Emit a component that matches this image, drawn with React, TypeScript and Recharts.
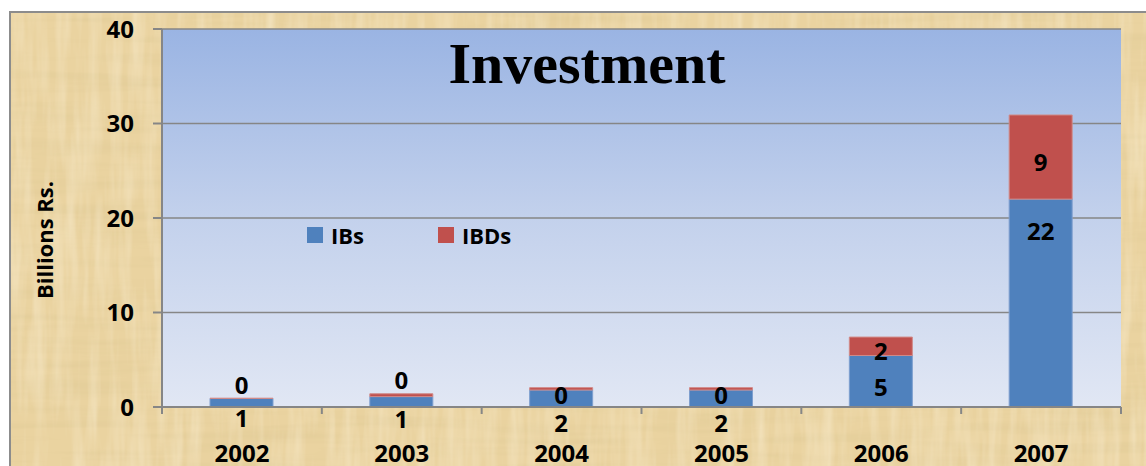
import React from 'react';
import {
  BarChart,
  Bar,
  XAxis,
  YAxis,
  CartesianGrid,
  Legend,
  LabelList,
} from 'recharts';

const years = ['2002', '2003', '2004', '2005', '2006', '2007'];
const ibs = [0.9, 1.1, 1.8, 1.8, 5.45, 22.0];
const ibds = [0.03, 0.3, 0.25, 0.25, 1.95, 8.9];
const yTicks = [0, 10, 20, 30, 40];

const data = years.map((year, i) => ({ year, IBs: ibs[i], IBDs: ibds[i] }));

const W = 1146;
const H = 466;
const FONT = '"Open Sans", "DejaVu Sans", sans-serif';
const BLUE = '#4F81BD';
const RED = '#C0504D';
const AXIS = '#868686';

function YearTick(props: any) {
  const { x, y, payload, index, width, visibleTicksCount } = props;
  const band = width / visibleTicksCount;
  return (
    <g>
      <line x1={x - band / 2} x2={x - band / 2} y1={y} y2={y + 7} stroke={AXIS} strokeWidth={2} />
      {index === visibleTicksCount - 1 && (
        <line x1={x + band / 2} x2={x + band / 2} y1={y} y2={y + 7} stroke={AXIS} strokeWidth={2} />
      )}
      <text x={x} y={y + 45} textAnchor="middle" dominantBaseline="central" fontFamily={FONT} fontWeight={700} fontSize={24} fill="#000">
        {payload.value}
      </text>
    </g>
  );
}

function IbsLabel(props: any) {
  const { x, y, width, height, value } = props;
  const cy = height > 40 ? y + 31 : y + height + 6 + height * 0.55;
  return (
    <text x={x + width / 2} y={cy} textAnchor="middle" dominantBaseline="central" fontFamily={FONT} fontWeight={700} fontSize={24} fill="#000">
      {Math.round(value)}
    </text>
  );
}

function IbdsLabel(props: any) {
  const { x, y, width, height, value, index } = props;
  const total = ibs[index] + ibds[index];
  let cy = y + height / 2 + 4;
  if (height <= 10) cy = total < 1.5 ? y - 14 : y + 7;
  return (
    <text x={x + width / 2} y={cy} textAnchor="middle" dominantBaseline="central" fontFamily={FONT} fontWeight={700} fontSize={24} fill="#000">
      {Math.round(value)}
    </text>
  );
}

function LegendBox() {
  const item = (color: string, label: string, gap: number) => (
    <span style={{ display: 'inline-flex', alignItems: 'center', marginRight: gap }}>
      <span style={{ width: 16, height: 16, background: color, display: 'inline-block', marginRight: 8 }} />
      <span style={{ fontFamily: FONT, fontWeight: 700, fontSize: 22, color: '#000', lineHeight: '24px' }}>{label}</span>
    </span>
  );
  return (
    <div style={{ display: 'flex', alignItems: 'center', whiteSpace: 'nowrap' }}>
      {item(BLUE, 'IBs', 74)}
      {item(RED, 'IBDs', 0)}
    </div>
  );
}

export default function App() {
  return (
    <div style={{ position: 'absolute', left: 0, top: 0, width: W, height: H, overflow: 'hidden', background: '#fff' }}>
      <svg width={W} height={H} style={{ position: 'absolute', left: 0, top: 0 }}>
        <defs>
          <filter id="fibH" x="0" y="0" width="100%" height="100%">
            <feTurbulence type="fractalNoise" baseFrequency="0.006 0.09" numOctaves={3} seed={4} />
            <feColorMatrix type="matrix" values="0 0 0 0 0.7  0 0 0 0 0.56  0 0 0 0 0.28  0.9 0 0 0 -0.38" />
          </filter>
          <filter id="fibV" x="0" y="0" width="100%" height="100%">
            <feTurbulence type="fractalNoise" baseFrequency="0.09 0.01" numOctaves={3} seed={9} />
            <feColorMatrix type="matrix" values="0 0 0 0 0.98  0 0 0 0 0.9  0 0 0 0 0.72  0.8 0 0 0 -0.3" />
          </filter>
        </defs>
        <rect x={10} y={12} width={W} height={H} fill="#EAD3A0" stroke="#8C8C8C" strokeWidth={2} />
        <rect x={11} y={13} width={W} height={H} filter="url(#fibH)" />
        <rect x={11} y={13} width={W} height={H} filter="url(#fibV)" />
      </svg>
      <div style={{ position: 'absolute', left: 0, top: 0 }}>
        <BarChart width={W} height={H} data={data} margin={{ top: 29, right: 25, left: 12, bottom: 0 }} barSize={63}>
          <defs>
            <linearGradient id="plotBg" x1="0" y1="0" x2="0" y2="1">
              <stop offset="0%" stopColor="#9AB4E3" />
              <stop offset="50%" stopColor="#C3D1EC" />
              <stop offset="100%" stopColor="#E1E7F4" />
            </linearGradient>
          </defs>
          <CartesianGrid vertical={false} stroke={AXIS} strokeWidth={1.5} fill="url(#plotBg)" fillOpacity={1} />
          <XAxis
            dataKey="year"
            height={59}
            axisLine={{ stroke: AXIS, strokeWidth: 2 }}
            tickLine={false}
            tickSize={0}
            tickMargin={0}
            tick={<YearTick />}
            interval={0}
          />
          <YAxis
            width={150}
            domain={[0, 40]}
            ticks={yTicks}
            interval={0}
            axisLine={{ stroke: AXIS, strokeWidth: 2 }}
            tickLine={{ stroke: AXIS, strokeWidth: 2 }}
            tickSize={9}
            tickMargin={19}
            tick={{ fontFamily: FONT, fontWeight: 700, fontSize: 24, fill: '#000' }}
            label={{
              content: (p: any) => {
                const vb = p.viewBox;
                const cx = vb.x + 32;
                const cy = vb.y + vb.height / 2 + 22;
                return (
                  <text x={cx} y={cy} transform={`rotate(-90 ${cx} ${cy})`} textAnchor="middle" dominantBaseline="central" fontFamily={FONT} fontWeight={700} fontSize={22} fill="#000">
                    Billions Rs.
                  </text>
                );
              },
            }}
          />
          <Legend
            layout="vertical"
            align="center"
            verticalAlign="middle"
            content={<LegendBox />}
            wrapperStyle={{ position: 'absolute', left: 307, top: 223, width: 'auto' }}
          />
          <Bar dataKey="IBs" stackId="a" fill={BLUE} stroke="#7E9FCF" strokeWidth={1} isAnimationActive={false}>
            <LabelList dataKey="IBs" content={<IbsLabel />} />
          </Bar>
          <Bar dataKey="IBDs" stackId="a" fill={RED} stroke="#D08A88" strokeWidth={1} isAnimationActive={false}>
            <LabelList dataKey="IBDs" content={<IbdsLabel />} />
          </Bar>
        </BarChart>
      </div>
      <svg width={W} height={H} style={{ position: 'absolute', left: 0, top: 0, pointerEvents: 'none' }}>
        <text x={587} y={83} textAnchor="middle" fontFamily='"Liberation Serif", "Times New Roman", serif' fontWeight={700} fontSize={58} fill="#000">
          Investment
        </text>
      </svg>
    </div>
  );
}
